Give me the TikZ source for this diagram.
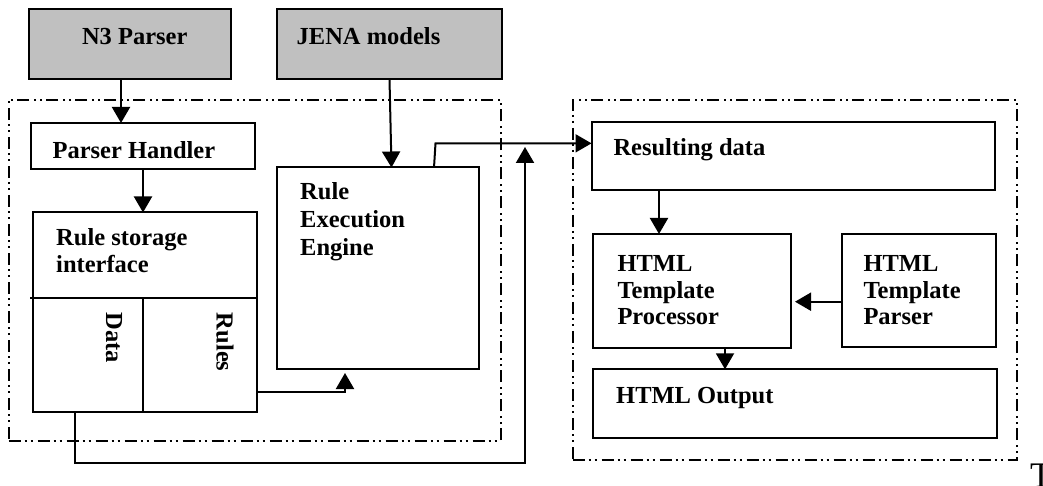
\documentclass[tikz,border=0pt]{standalone}
\usepackage{fontspec}
\setmainfont{Liberation Serif}
\usetikzlibrary{arrows.meta}
\definecolor{boxgray}{RGB}{192,192,192}
\begin{document}
\begin{tikzpicture}[x=1pt,y=-1pt,
  box/.style={draw, line width=2pt, inner sep=0pt, outer sep=0pt, anchor=north west},
  greybox/.style={box, fill=boxgray},
  frame/.style={draw, line width=2pt, inner sep=0pt, outer sep=0pt, anchor=north west,
    dash pattern=on 12pt off 4pt on 2pt off 4pt on 2pt off 5pt},
  lbl/.style={font=\fontsize{24.5}{28}\selectfont\bfseries, inner sep=0pt, anchor=base west},
  arr/.style={line width=2pt, -{Triangle[length=16pt,width=18pt]}},
  ln/.style={line width=2pt}
]
\useasboundingbox (0,0) rectangle (1043,486);

% containers
\node[frame, minimum width=492.5, minimum height=340.6] (leftgroup) at (8.5,100) {};
\node[frame, minimum width=444, minimum height=360] (rightgroup) at (572.7,100) {};

% boxes
\node[greybox, minimum width=202.5, minimum height=69.5] (n3) at (28.5,9.5) {};
\node[greybox, minimum width=225, minimum height=69.5] (jena) at (277,9.5) {};
\node[box, minimum width=224, minimum height=46] (ph) at (31,123) {};
\node[box, minimum width=224, minimum height=199.5] (rs) at (33,212.5) {};
\node[box, minimum width=201.5, minimum height=201] (ree) at (277,167.5) {};
\node[box, minimum width=403.5, minimum height=68.3] (rd) at (591.5,121.7) {};
\node[box, minimum width=198.5, minimum height=113.5] (htp) at (592.5,234) {};
\node[box, minimum width=153.5, minimum height=113] (hpar) at (842,234) {};
\node[box, minimum width=404, minimum height=68.4] (ho) at (592.7,369.3) {};

% rule storage dividers
\draw[ln] ([xshift=-3pt,yshift=-85.5pt]rs.north west) -- ([yshift=-85.5pt]rs.north east);
\draw[ln] ([xshift=110pt,yshift=-85.5pt]rs.north west) -- ([xshift=110pt]rs.south west);

% labels
\node[lbl] (t-n3) at (81.8,44.5) {N3 Parser};
\node[lbl] (t-jena) at (296.5,44.5) {JENA models};
\node[lbl] (t-ph) at (52.4,158.2) {Parser Handler};
\node[lbl] (t-rs1) at (56,245) {Rule storage};
\node[lbl] (t-rs2) at (56,272.7) {interface};
\node[lbl, rotate=-90] (t-data) at (106,312.7) {Data};
\node[lbl, rotate=-90] (t-rules) at (216.7,312.7) {Rules};
\node[lbl] (t-ree1) at (300,199.3) {Rule};
\node[lbl] (t-ree2) at (300,228) {Execution};
\node[lbl] (t-ree3) at (300,255.5) {Engine};
\node[lbl] (t-rd) at (613.3,156) {Resulting data};
\node[lbl] (t-htp1) at (617.3,271.7) {HTML};
\node[lbl] (t-htp2) at (617.3,298.3) {Template};
\node[lbl] (t-htp3) at (617.3,324.3) {Processor};
\node[lbl] (t-hpar1) at (863.3,271.7) {HTML};
\node[lbl] (t-hpar2) at (863.3,298.3) {Template};
\node[lbl] (t-hpar3) at (863.3,324.3) {Parser};
\node[lbl] (t-ho) at (616,403.3) {HTML Output};
\node[font=\fontsize{36}{36}\selectfont, inner sep=0pt, anchor=base west] (t-cap) at (1030,487) {T};

% connectors
\draw[arr] ([xshift=-8.75pt]n3.south) coordinate (a0) -- (a0 |- ph.north);
\draw[arr] (ph.south) -- (ph.south |- rs.north);
\draw[arr] (jena.south) -- ([xshift=13.75pt]ree.north);
\draw[arr] ([xshift=56.25pt]ree.north) -- ++(1.5,-24.2) -- ([yshift=12.5pt]rd.west);
\coordinate (looptip) at (525,147);
\draw[arr] ([xshift=-70pt]rs.south) -- ++(0,50.6) -| (looptip);
\draw[arr] ([yshift=-79.45pt]rs.east) -| ([xshift=-32.75pt,yshift=-4.5pt]ree.south);
\draw[arr] ([xshift=-134.25pt]rd.south) coordinate (a2) -- (a2 |- htp.north);
\draw[arr, shorten >=4pt] ([yshift=-11.2pt]hpar.west) coordinate (a3) -- (a3 -| htp.east);
\draw[arr] ([xshift=33.25pt]htp.south) coordinate (a4) -- (a4 |- ho.north);
\end{tikzpicture}
\end{document}
